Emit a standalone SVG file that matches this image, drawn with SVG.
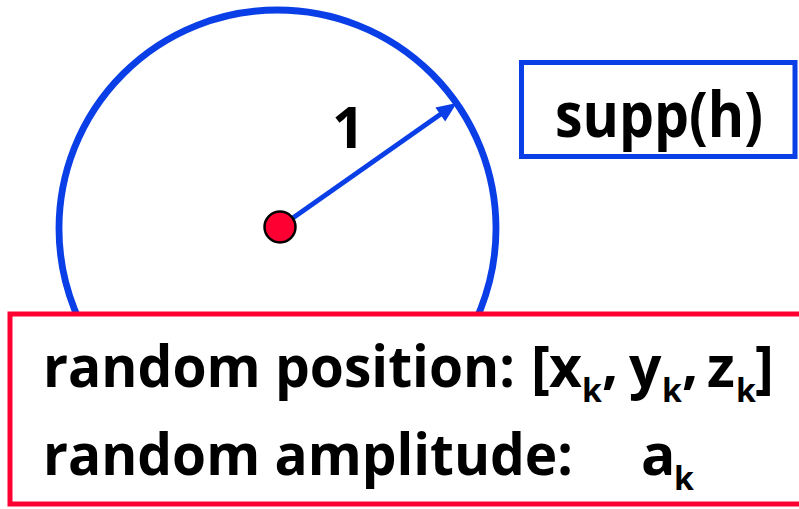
<svg xmlns="http://www.w3.org/2000/svg" width="799" height="509" viewBox="0 0 799 509">
<style>
.t{font-family:"Open Sans","Noto Sans","Liberation Sans",sans-serif;font-weight:bold;fill:#000}
.m{font-size:57px}
.s{font-size:32px}
.blue{stroke:#0a3ee6;fill:none}
.red{stroke:#ff0033}
</style>
<rect width="799" height="509" fill="#fff"/>
<g id="support-circle">
<circle cx="277.5" cy="228.5" r="218.5" class="blue" stroke-width="6.8"/>
</g>
<g id="connectors">
<line x1="280" y1="227" x2="443" y2="112.5" stroke="#0a3ee6" stroke-width="4.8"/>
<polygon points="456.7,103 445.2,121.5 435.4,107.5" fill="#0a3ee6"/>
</g>
<g id="center-point">
<circle cx="280" cy="227" r="15.5" fill="#ff0033" stroke="#000" stroke-width="2.5"/>
</g>
<g id="radius-label">
<text class="t m" x="332" y="148">1</text>
</g>
<g id="supp-box">
<rect x="521.5" y="62.5" width="273.5" height="94" fill="#fff" class="blue" stroke-width="5"/>
<text class="t" font-size="62" x="555" y="137" textLength="208" lengthAdjust="spacingAndGlyphs">supp(h)</text>
</g>
<g id="random-box">
<rect x="10" y="314" width="800" height="190" fill="#fff" class="red" stroke-width="5"/>
<text class="t m" x="43" y="387" textLength="472" lengthAdjust="spacingAndGlyphs">random position:</text>
<text class="t m" x="531" y="387">[</text>
<text class="t m" x="549" y="387">x</text>
<text class="t s" x="582" y="402">k</text>
<text class="t m" x="602" y="383">,</text>
<text class="t m" x="629" y="387">y</text>
<text class="t s" x="662" y="402">k</text>
<text class="t m" x="682" y="383">,</text>
<text class="t m" x="707" y="387">z</text>
<text class="t s" x="736" y="402">k</text>
<text class="t m" x="755" y="387">]</text>
<text class="t m" x="43" y="475" textLength="530" lengthAdjust="spacingAndGlyphs">random amplitude:</text>
<text class="t m" x="641" y="475">a</text>
<text class="t s" x="674" y="490">k</text>
</g>
</svg>
